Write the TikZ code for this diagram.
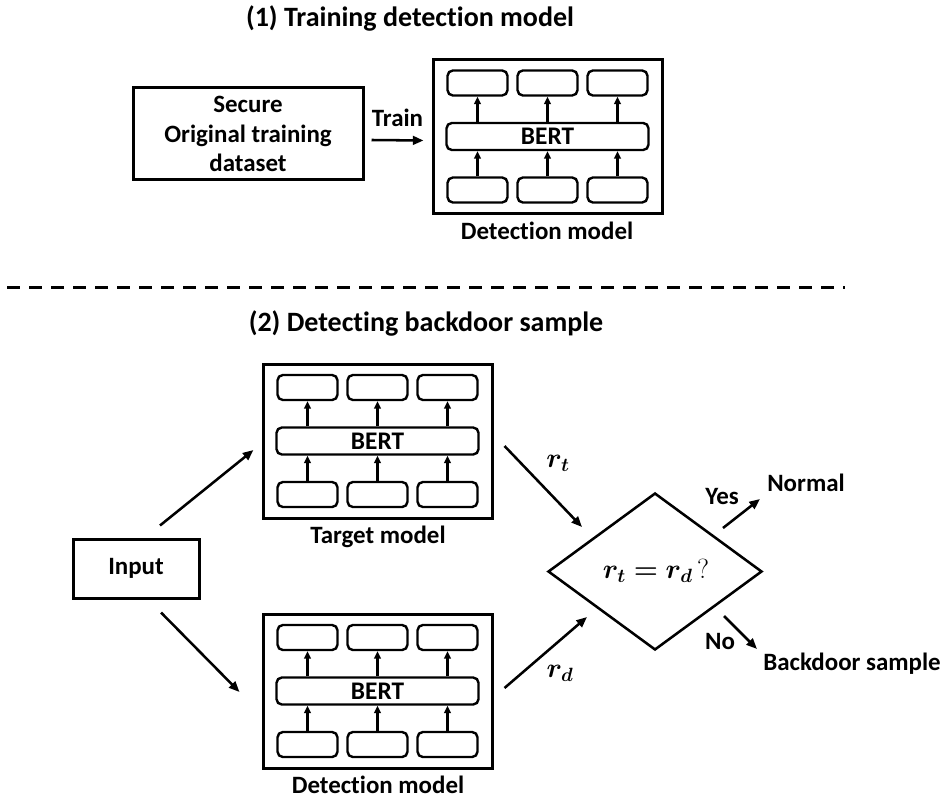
\documentclass[tikz,border=0pt]{standalone}
\usepackage{amsmath}
\usepackage{bm}
\usepackage{fontspec}
\setmainfont{Carlito}[Ligatures=NoCommon]
\usetikzlibrary{shapes.geometric,arrows.meta}
\tikzset{
  lbl/.style={font=\bfseries\fontsize{18.7}{22}\selectfont, inner sep=0pt},
  ttl/.style={font=\bfseries\fontsize{21}{24}\selectfont, inner sep=0pt},
  mth/.style={font=\fontsize{20.5}{24}\selectfont, inner sep=0pt},
  plainbox/.style={draw, line width=2.25pt, inner sep=0pt},
  outerbox/.style={plainbox, minimum width=171.75pt, minimum height=115.5pt},
  cell/.style={draw, line width=1.8pt, rounded corners=4pt, minimum width=45pt, minimum height=18.75pt, inner sep=0pt},
  bar/.style={cell, minimum width=151.5pt, minimum height=20.25pt, font=\bfseries\fontsize{19}{20}\selectfont},
  arr/.style={line width=1.9pt, -{Triangle[length=8pt,width=6.5pt]}},
  smallarr/.style={line width=1.6pt, -{Triangle[length=5.5pt,width=5pt]}},
  pics/bertmodel/.style={code={
    \node[outerbox] (o) at (0,0) {};
    \node[bar] (bar) at (0,0) {BERT};
    \foreach \i/\xx in {1/-70,2/0,3/70}{
      \node[cell] (t\i) at (\xx,-53.5) {};
      \node[cell] (b\i) at (\xx,53.5) {};
      \draw[smallarr] (bar.north -| t\i) -- (t\i.south);
      \draw[smallarr] (b\i.north) -- (bar.south -| b\i);
    }
  }}
}
\begin{document}
\begin{tikzpicture}[x=0.75pt,y=-0.75pt]
\useasboundingbox (0,0) rectangle (944,798);
% titles
\node[ttl] (title1) at (410,18) {(1) Training detection model};
\node[ttl] (title2) at (426,323) {(2) Detecting backdoor sample};
% part 1
\node[plainbox, minimum width=172.5pt, minimum height=69pt, align=center, lbl] (secure) at (248,134) {Secure\\Original training\\dataset};
\pic (mA) at (547.5,136.5) {bertmodel};
\node[lbl] (mAlbl) at (547,231) {Detection model};
\draw[arr] ([shift={(7,6)}]secure.east) -- node[lbl, above=9pt] (trainlbl) {Train} ([shift={(-8,4)}]mAo.west);
% separator
\draw[line width=2.25pt, dash pattern=on 9.75pt off 6.75pt] (7,287) -- (845,287);
% part 2
\node[plainbox, minimum width=94.5pt, minimum height=44.25pt, lbl] (input) at (136,568.5) {Input};
\pic (mT) at (377.5,441) {bertmodel};
\node[lbl] (mTlbl) at (378,537) {Target model};
\pic (mD) at (377.5,691) {bertmodel};
\node[lbl] (mDlbl) at (378,785) {Detection model};
\node[draw, diamond, line width=1.9pt, minimum width=160.5pt, minimum height=117.75pt, inner sep=0pt] (dec) at (655,571.5) {};
\node[mth] (dectext) at (656,571) {$\bm{r_t = r_d}\,?$};
\draw[arr] ([shift={(24,-12)}]input.north) -- ([shift={(-8,9)}]mTo.west);
\draw[arr] ([shift={(25,13)}]input.south) -- ([shift={(-22,1)}]mDo.west);
\draw[arr] ([shift={(11,5)}]mTo.east) -- ([shift={(-73,-44.5)}]dec.center);
\draw[arr] ([shift={(11,-3)}]mDo.east) -- ([shift={(-68,45.5)}]dec.center);
\node[mth] (rt) at (558,463) {$\bm{r_t}$};
\node[mth] (rd) at (560,673) {$\bm{r_d}$};
\coordinate (yesend) at (760,499);
\coordinate (noend) at (757,649);
\draw[arr] ([shift={(68,-43.5)}]dec.center) -- (yesend);
\draw[arr] ([shift={(69,44.5)}]dec.center) -- (noend);
\node[lbl] (yes) at (722,497) {Yes};
\node[lbl] (no) at (720,642) {No};
\node[lbl] (normal) at (806,483) {Normal};
\node[lbl] (backdoor) at (852,664) {Backdoor sample};
\end{tikzpicture}
\end{document}
